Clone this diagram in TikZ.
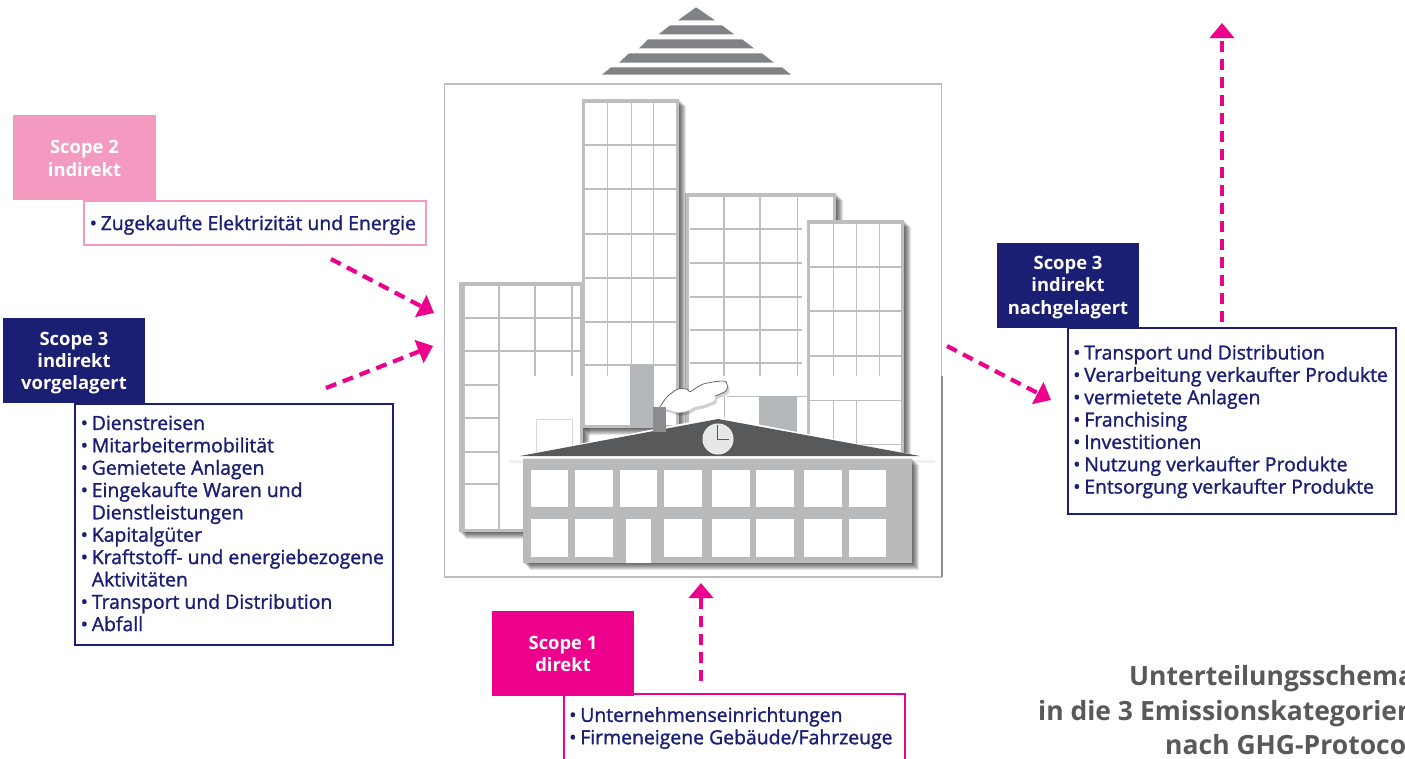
\documentclass[tikz,border=0pt]{standalone}
\usepackage{fontspec}
\setmainfont{Open Sans}
\newfontfamily\semi[FakeBold=1.4]{Open Sans}
\usetikzlibrary{arrows.meta}
\definecolor{navy}{HTML}{1B1F74}
\definecolor{mag}{HTML}{EC008C}
\definecolor{lpink}{HTML}{F49AC1}
\definecolor{fr}{HTML}{BCBEC0}
\definecolor{body}{HTML}{B8BABC}
\definecolor{roofc}{HTML}{58595B}
\definecolor{pyr}{HTML}{808285}
\definecolor{chim}{HTML}{8A8C8F}
\definecolor{blockc}{HTML}{B5B8BA}
\definecolor{titlec}{HTML}{58595B}
\definecolor{clockc}{HTML}{E6E7E8}
\newcommand{\softshadow}[4]{%
  \foreach \d in {1,2,3,4,5,6,7}{\fill[black,opacity=.11] (#1+\d,#2+\d) rectangle (#3+\d,#4+\d);}}
\newcommand{\towerbox}[5]{% x1 y1 x2 y2 leftframe
  \softshadow{#1}{#2}{#3}{#4}
  \fill[fr] (#1,#2) rectangle (#3,#4);
  \fill[white] (#1+#5,#2+4) rectangle (#3-3,#4-3);}
\tikzset{
  head/.style={minimum width=142pt,minimum height=85pt,inner sep=0pt},
  headtext/.style={white,font=\bfseries\fontsize{18.4}{22.4}\selectfont,align=center,inner sep=0pt},
  listbox/.style={draw,line width=2pt,fill=white,anchor=north west,inner sep=0pt},
  listtext/.style={anchor=west,align=left,inner sep=0pt,text=navy,font=\semi\fontsize{19.4}{22.35}\selectfont},
  flow/.style={mag,line width=4.2pt,dash pattern=on 11pt off 7pt,-{Triangle[length=15pt,width=24pt]}},
  grid/.style={fr,line width=1.5pt},
  gridt/.style={fr,line width=1pt},
  ttl/.style={titlec,font=\bfseries\fontsize{26.5}{30}\selectfont,anchor=base west,inner sep=0pt},
}
\newcommand{\bu}{•\hspace{3.8pt}}
\newcommand{\nobu}{\hphantom{•\hspace{3.8pt}}}
\begin{document}
\begin{tikzpicture}[x=1pt,y=-1pt]
\clip (0,0) rectangle (1405,758);
\useasboundingbox (0,0) rectangle (1405,758);
\fill[white] (0,0) rectangle (1405,758);
% pyramid
\fill[pyr] (696,7.3) -- (715,20.3) -- (678,20.3) -- cycle;
\fill[pyr] (670,25.3) -- (722,25.3) -- (734,34.3) -- (658.7,34.3) -- cycle;
\fill[pyr] (648,39.3) -- (742,39.3) -- (754,48.3) -- (639,48.3) -- cycle;
\fill[pyr] (629,53.3) -- (762,53.3) -- (774,62.7) -- (619,62.7) -- cycle;
\fill[pyr] (611,67.3) -- (782,67.3) -- (791,74.7) -- (602,74.7) -- cycle;
% frame
\draw[fr,line width=1.3pt] (444.5,84) rectangle (941.5,577);
\draw[chim,line width=2pt] (941.5,376) -- (941.5,577);
% tower left
\towerbox{459}{282}{583}{532}{5.5}
\foreach \x in {499}{\draw[grid] (\x,285) -- (\x,529);}
\foreach \x in {535,572}{\draw[grid] (\x,285) -- (\x,376);}
\foreach \y in {318,351}{\draw[grid] (464,\y) -- (580,\y);}
\foreach \y in {385,418,452,484}{\draw[grid] (464,\y) -- (499,\y);}
\draw[fr!60,line width=.8pt] (536,419) -- (572,419);
\draw[fr!60,line width=.8pt] (536,419) -- (536,470);
\draw[fr!60,line width=.8pt] (572,419) -- (572,460);
% tower right back
\towerbox{685}{193}{836}{450}{4}
\foreach \x in {724,760}{\draw[grid] (\x,196) -- (\x,376);}
\draw[gridt] (797,196) -- (797,376);
\foreach \y in {229,263,297,330,363}{\draw[grid] (690,\y) -- (802,\y);}
\draw[gridt] (727,396) -- (808,396);
\draw[gridt] (724,396) -- (724,440);
\fill[blockc] (759,396) rectangle (797,432);
% tower tall
\towerbox{582}{99}{679}{428}{3}
\foreach \x in {607.7,631,653.7}{\draw[gridt] (\x,102) -- (\x,365);}
\draw[gridt] (607.7,365) -- (607.7,376);
\foreach \y in {145,189,234,278,322,365}{\draw[grid] (585,\y) -- (676,\y);}
\fill[blockc] (630,365) rectangle (654,428);
% tower right front
\towerbox{807}{220}{904}{462}{3}
\foreach \x in {833,856,879}{\draw[gridt] (\x,223) -- (\x,376);}
\foreach \y in {267,311,356}{\draw[grid] (810,\y) -- (901,\y);}
\draw[gridt] (810,400) -- (901,400);
\foreach \x in {833,856}{\draw[gridt] (\x,400) -- (\x,456);}
\draw[gridt] (856,444) -- (901,444);
% main building
\softshadow{523}{458}{912}{563}
\fill[body] (523,458) rectangle (912,563);
\foreach \x in {530.7,575,619.7,664,712,756,804,848.7}{\fill[white] (\x,470) rectangle (\x+37.5,507);}
\foreach \x in {530.7,575,664,712,756,804,848.7}{\fill[white] (\x,519) rectangle (\x+37.5,557);}
\fill[white] (625.7,519) rectangle (651,563);
% roof
\foreach \d in {1,2,3}{\fill[black,opacity=.06] (509,459+\d) rectangle (523,460+\d);\fill[black,opacity=.06] (912,459+\d) rectangle (935,460+\d);}
\fill[white] (505,458.5) -- (718,416.5) -- (933,458.5) -- cycle;
\fill[roofc] (520,456) -- (718,419) -- (920,456) -- cycle;
\fill[chim] (653,407) rectangle (666,432);
% smoke
\fill[black,opacity=.18,shift={(2,3)}] plot[smooth cycle,tension=.5] coordinates {(660,406.7) (666.7,397.3) (677.3,389.3) (687.3,389.3) (690,391.7) (703.3,384) (723.3,381) (727.3,385) (726,391) (715.3,396) (714,400.7) (703.3,405) (693.3,407.3) (688.3,410.7) (678.3,412.7) (670,410)};
\fill[white] plot[smooth cycle,tension=.5] coordinates {(660,406.7) (666.7,397.3) (677.3,389.3) (687.3,389.3) (690,391.7) (703.3,384) (723.3,381) (727.3,385) (726,391) (715.3,396) (714,400.7) (703.3,405) (693.3,407.3) (688.3,410.7) (678.3,412.7) (670,410)};
\draw[roofc,line width=.7pt] plot[smooth,tension=.5] coordinates {(660,406.7) (666.7,397.3) (677.3,389.3) (687.3,389.3) (690,391.7) (703.3,384) (723.3,381) (727.3,385) (726,391) (715.3,396)};
\fill[chim] (653,407) rectangle (666,420);
% clock
\fill[white] (718,439) circle (15.5);
\fill[clockc] (718,439) circle (15);
\draw[roofc,line width=1pt] (717.5,425) -- (717.5,439) -- (729,439);
% lists (frames drawn before any emboldened text)
\node[listbox,draw=lpink,minimum width=342.5pt,minimum height=44.5pt] (l2) at (82.5,199.5) {};
\node[listbox,draw=navy,minimum width=318.5pt,minimum height=241.5pt] (l3l) at (73.5,402.5) {};
\node[listbox,draw=navy,minimum width=328.5pt,minimum height=186.5pt] (l3r) at (1066.5,326.5) {};
\node[listbox,draw=mag,minimum width=341.5pt,minimum height=71pt] (l1) at (562.5,692.5) {};
% headings
\node[head,fill=lpink,minimum width=143pt] (s2) at (84.5,157.5) {};
\node[headtext] (s2t) at ([yshift=-1pt]s2.center) {Scope 2\\indirekt};
\node[head,fill=navy] (s3l) at (74,360.5) {};
\node[headtext] (s3lt) at ([yshift=-2.5pt]s3l.center) {Scope 3\\indirekt\\vorgelagert};
\node[head,fill=navy] (s3r) at (1068,285) {};
\node[headtext] (s3rt) at ([yshift=-2.5pt]s3r.center) {Scope 3\\indirekt\\nachgelagert};
\node[head,fill=mag] (s1) at (563,653) {};
\node[headtext] (s1t) at ([yshift=-1pt]s1.center) {Scope 1\\direkt};
% arrows
\coordinate (a2s) at (331,259); \coordinate (a2e) at (434,313);
\coordinate (a3s) at (326,388); \coordinate (a3e) at (433,346);
\coordinate (a4s) at (947,346); \coordinate (a4e) at (1051,400);
\coordinate (a1s) at (701,681); \coordinate (a1e) at (701,583);
\coordinate (a5s) at (1222,322); \coordinate (a5e) at (1222,23);
\draw[flow] (a2s) -- (a2e);
\draw[flow] (a3s) -- (a3e);
\draw[flow] (a4s) -- (a4e);
\draw[flow] (a1s) -- (a1e);
\draw[flow] (a5s) -- (a5e);
% list texts
\node[listtext] (l2t) at (89.5,225) {\bu Zugekaufte Elektrizität und Energie};
\node[listtext] (l3lt) at (80.5,523.5) {\bu Dienstreisen\\\bu Mitarbeitermobilität\\\bu Gemietete Anlagen\\\bu Eingekaufte Waren und\\\nobu Dienstleistungen\\\bu Kapitalgüter\\\bu Kraftstoff- und energiebezogene\\\nobu Aktivitäten\\\bu Transport und Distribution\\\bu Abfall};
\node[listtext] (l3rt) at (1073,421.5) {\bu Transport und Distribution\\\bu Verarbeitung verkaufter Produkte\\\bu vermietete Anlagen\\\bu Franchising\\\bu Investitionen\\\bu Nutzung verkaufter Produkte\\\bu Entsorgung verkaufter Produkte};
\node[listtext] (l1t) at (569,728) {\bu Unternehmenseinrichtungen\\\bu Firmeneigene Gebäude/Fahrzeuge};
% title
\node[ttl] (t1) at (1129,685) {Unterteilungsschema};
\node[ttl] (t2) at (1038,720) {in die 3 Emissionskategorien};
\node[ttl] (t3) at (1165,754) {nach GHG-Protocol};
\end{tikzpicture}
\end{document}
